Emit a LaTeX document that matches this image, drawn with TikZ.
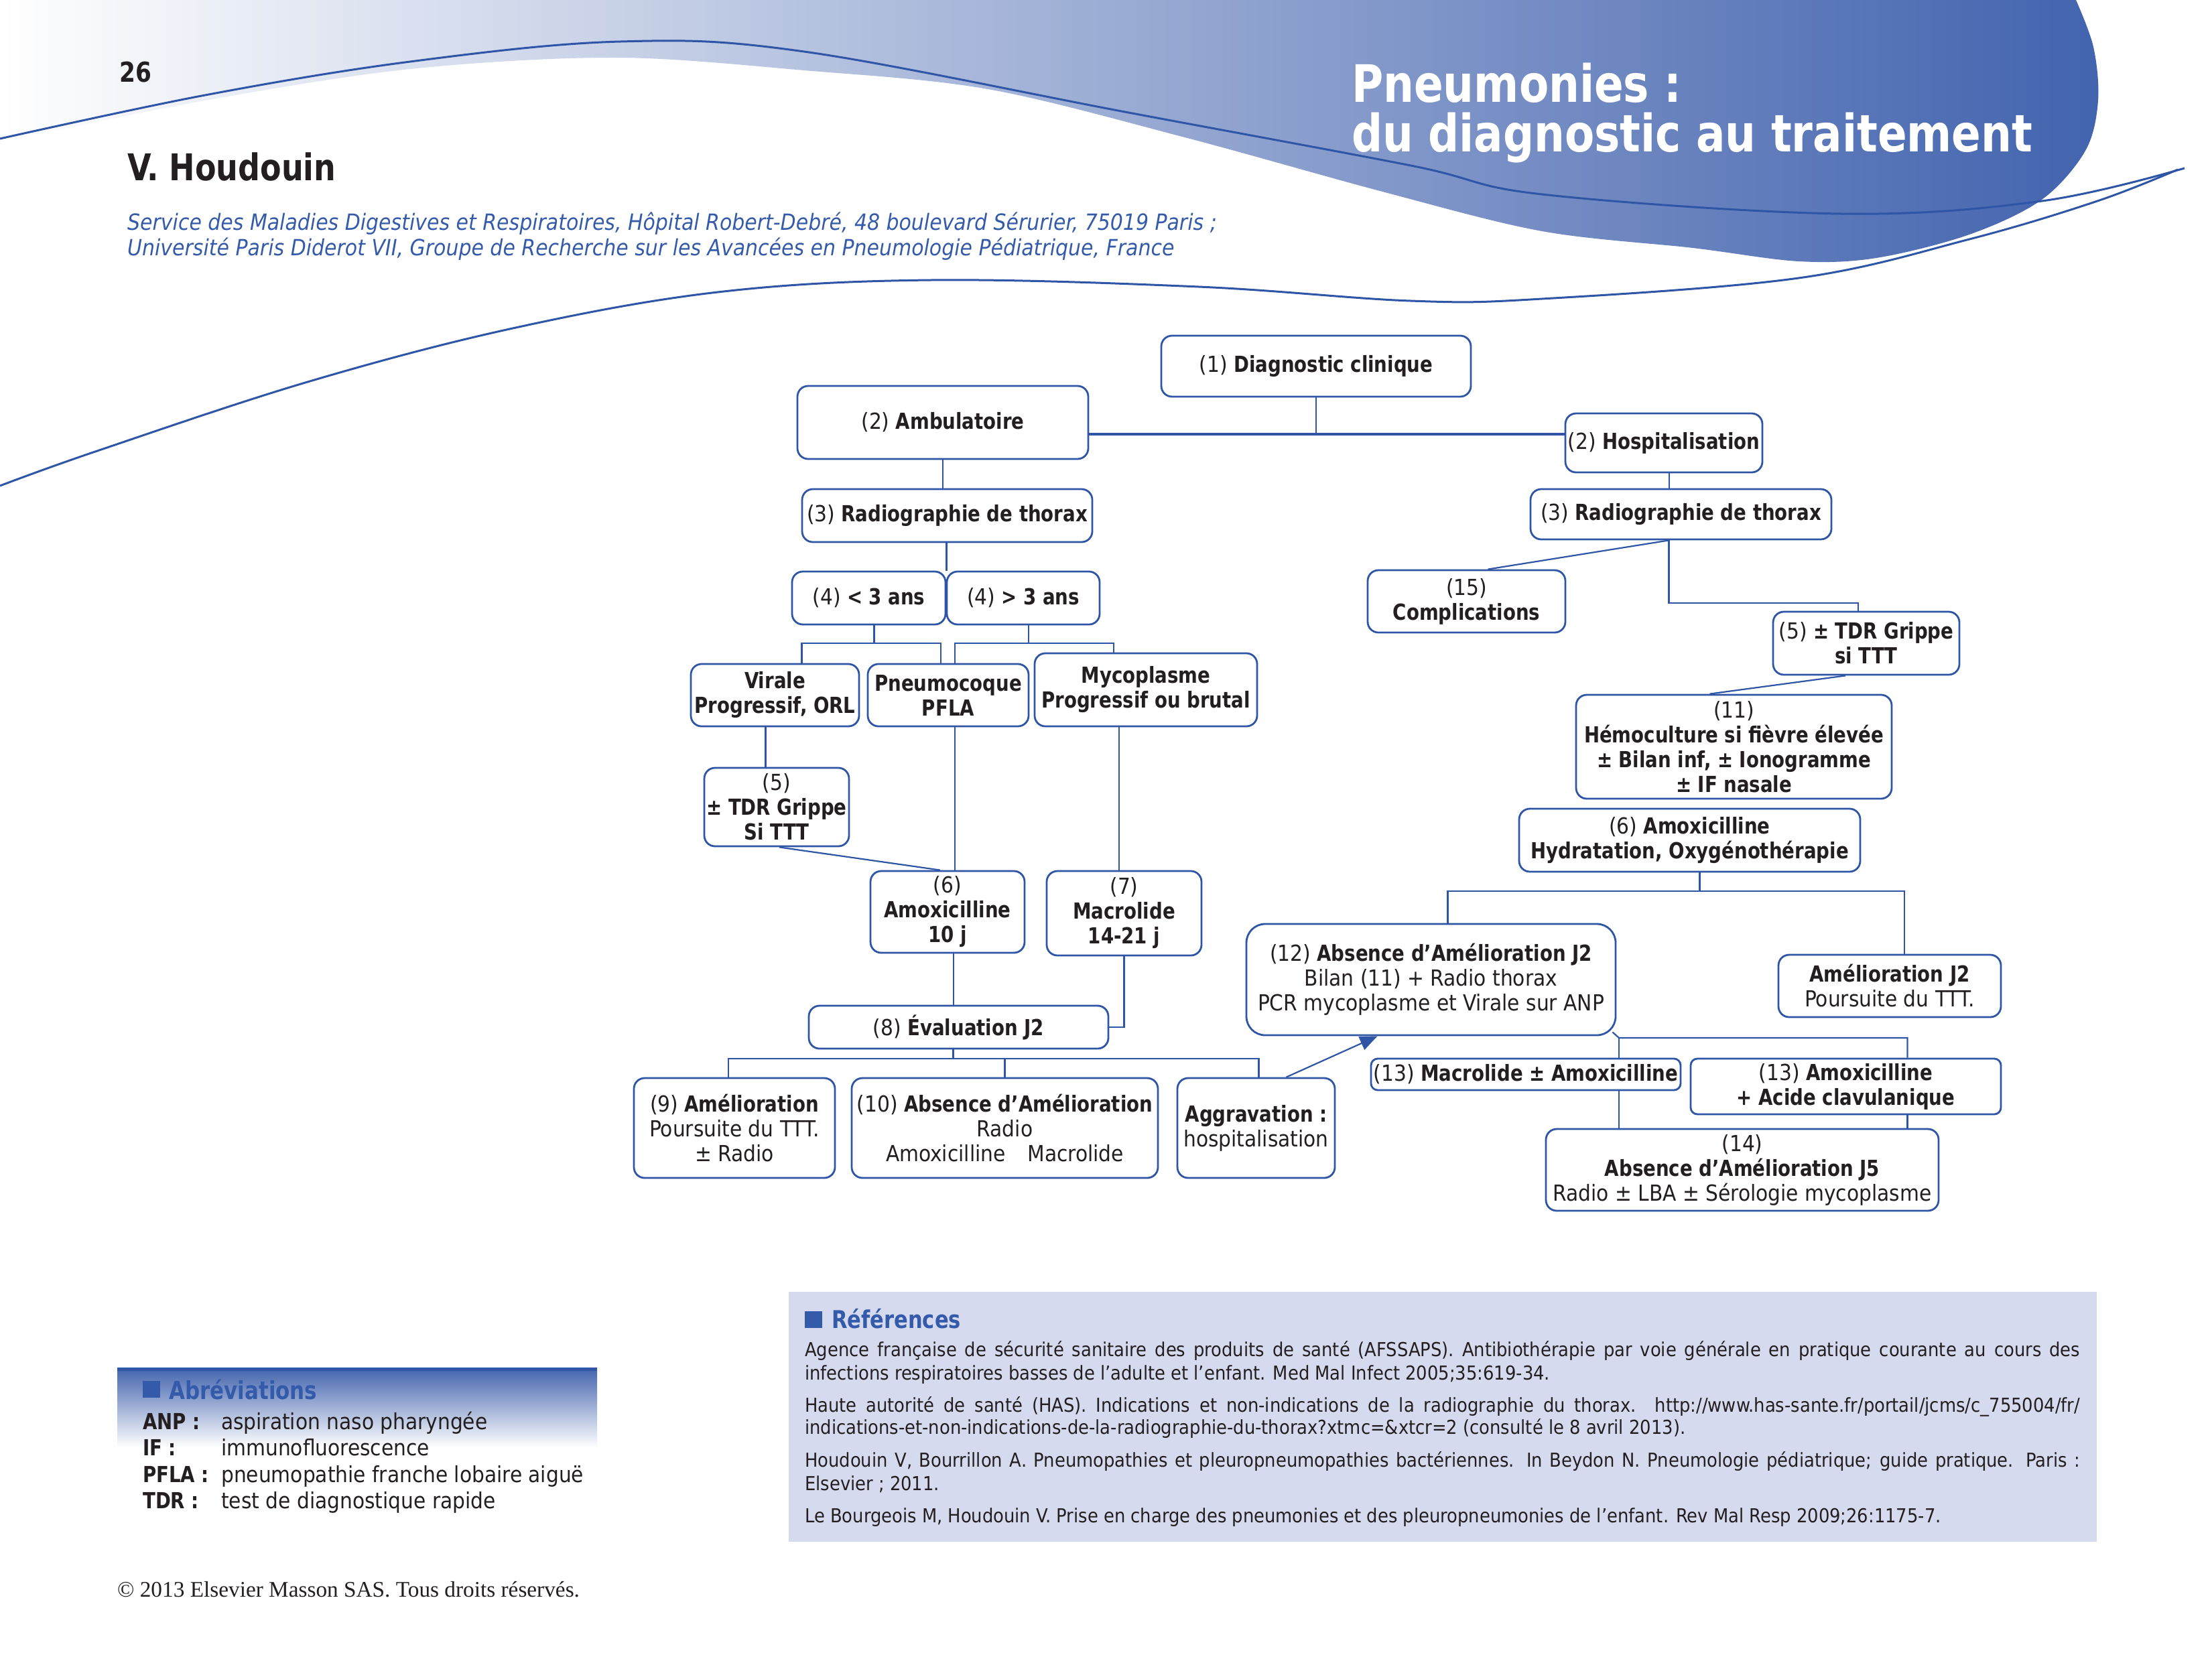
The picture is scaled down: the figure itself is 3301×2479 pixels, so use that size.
\documentclass[tikz,border=0pt]{standalone}
\usepackage{fontspec}
\usetikzlibrary{arrows.meta}
\setmainfont{DejaVuSansCondensed}[Extension=.ttf, UprightFont=*, BoldFont=*-Bold, BoldFeatures={FakeStretch=0.93}, ItalicFont=*-Oblique, BoldItalicFont=*-BoldOblique]
\newfontfamily\copyfont{Liberation Serif}
\definecolor{lblue}{RGB}{47,86,166}
\definecolor{hblue}{RGB}{66,99,174}
\definecolor{hmid}{RGB}{168,176,217}
\definecolor{refbg}{RGB}{213,218,238}
\definecolor{txtc}{RGB}{35,31,32}
\definecolor{ttlblue}{RGB}{52,90,170}
\newcommand\mybf[1]{{\bfseries #1}}
\newcommand\fsz[2]{\fontsize{#1}{#2}\selectfont}
\begin{document}
\begin{tikzpicture}[x=1pt,y=-1pt,
  bx/.style={draw=lblue, line width=2.8pt, rounded corners=16pt, fill=white, align=center, inner sep=0pt, text=txtc, font=\fsz{33}{37}},
  ln/.style={draw=lblue, line width=2.2pt},
  lnthick/.style={draw=lblue, line width=3.5pt},
  hline/.style={draw=lblue, line width=3pt},
  tx/.style={inner sep=0pt, anchor=base west, text=txtc}]
\useasboundingbox (0,0) rectangle (3301,2479);
% header
\shade[left color=white, middle color=hmid, right color=hblue]
  plot[smooth, tension=0.55] coordinates {(3098,0) (3124,70) (3131,150) (3112,225) (3047,298) (2939,350) (2800,385) (2684,390) (2526,370) (2301,345) (2063,286) (1768,205) (1474,133) (1200,105) (918,86) (612,103) (306,150) (0,212)} -- (0,0) -- cycle;
\draw[hline] plot[smooth, tension=0.6] coordinates {(0,207) (306,142) (612,92) (926,62) (1200,77) (1684,168) (2105,247) (2301,290) (2747,319) (3047,300) (3260,251)};
\draw[hline] plot[smooth, tension=0.6] coordinates {(0,725) (145,673) (459,570) (765,490) (1071,436) (1389,418) (1789,428) (2105,449) (2301,446) (2684,415) (2939,357) (3130,300) (3250,253)};
\node[tx, font=\fsz{41}{41}\bfseries] (page) at (178,122) {26};
\node[tx, text=white, font=\fsz{77}{77}\bfseries] (t1) at (2017,152) {Pneumonies :};
\node[tx, text=white, font=\fsz{77}{77}\bfseries] (t2) at (2017,226) {du diagnostic au traitement};
\node[tx, font=\fsz{55}{55}\bfseries] (auth) at (190,269) {V. Houdouin};
\node[tx, text=ttlblue, font=\fsz{33.3}{38}\itshape] (af1) at (190,343) {Service des Maladies Digestives et Respiratoires, Hôpital Robert-Debré, 48 boulevard Sérurier, 75019 Paris ;};
\node[tx, text=ttlblue, font=\fsz{33.3}{38}\itshape] (af2) at (190,381) {Université Paris Diderot VII, Groupe de Recherche sur les Avancées en Pneumologie Pédiatrique, France};
% boxes
\node[bx, minimum width=462pt, minimum height=91pt] (d1) at (1964,546.5) {(1) \mybf{Diagnostic clinique}};
\node[bx, minimum width=434pt, minimum height=109pt] (amb) at (1407,630.5) {(2) \mybf{Ambulatoire}};
\node[bx, minimum width=294pt, minimum height=88pt] (hosp) at (2483,661) {(2) \mybf{Hospitalisation}};
\node[bx, minimum width=433pt, minimum height=79pt] (radL) at (1413.5,769.5) {(3) \mybf{Radiographie de thorax}};
\node[bx, minimum width=449pt, minimum height=75pt] (radR) at (2508.5,767.5) {(3) \mybf{Radiographie de thorax}};
\node[bx, minimum width=229pt, minimum height=79pt] (lt3) at (1296.5,892.5) {(4) \mybf{< 3 ans}};
\node[bx, minimum width=228pt, minimum height=79pt] (gt3) at (1527,892.5) {(4) \mybf{> 3 ans}};
\node[bx, minimum width=251pt, minimum height=93pt] (vir) at (1156.5,1037.5) {\mybf{Virale}\\\mybf{Progressif, ORL}};
\node[bx, minimum width=240pt, minimum height=93pt] (pneu) at (1415,1037.5) {\mybf{Pneumocoque}\\\mybf{PFLA}};
\node[bx, minimum width=332pt, minimum height=109pt] (myco) at (1710,1029.5) {\mybf{Mycoplasme}\\\mybf{Progressif ou brutal}};
\node[bx, minimum width=216pt, minimum height=117pt] (tdrL) at (1159,1204.5) {(5)\\\mybf{± TDR Grippe}\\\mybf{Si TTT}};
\node[bx, minimum width=230pt, minimum height=122pt] (amoxL) at (1414,1361) {(6)\\\mybf{Amoxicilline}\\\mybf{10 j}};
\node[bx, minimum width=231pt, minimum height=126pt] (macro) at (1677.5,1363) {(7)\\\mybf{Macrolide}\\\mybf{14-21 j}};
\node[bx, minimum width=447pt, minimum height=64pt] (eval) at (1430.5,1533) {(8) \mybf{Évaluation J2}};
\node[bx, minimum width=300pt, minimum height=149pt] (ame9) at (1096,1683.5) {(9) \mybf{Amélioration}\\Poursuite du TTT.\\± Radio};
\node[bx, minimum width=457pt, minimum height=149pt] (abs10) at (1499.5,1683.5) {(10) \mybf{Absence d’Amélioration}\\Radio\\Amoxicilline\quad Macrolide};
\node[bx, minimum width=235pt, minimum height=149pt] (aggr) at (1874.5,1683.5) {\mybf{Aggravation :}\\hospitalisation};
\node[bx, minimum width=295pt, minimum height=93pt] (comp) at (2188.5,897.5) {(15)\\\mybf{Complications}};
\node[bx, minimum width=278pt, minimum height=94pt] (tdrR) at (2785,960) {(5) \mybf{± TDR Grippe}\\\mybf{si TTT}};
\node[bx, minimum width=471pt, minimum height=155pt] (hemo) at (2587.5,1114.5) {(11)\\\mybf{Hémoculture si fièvre élevée}\\\mybf{± Bilan inf, ± Ionogramme}\\\mybf{± IF nasale}};
\node[bx, minimum width=509pt, minimum height=94pt] (amoxR) at (2521.5,1254) {(6) \mybf{Amoxicilline}\\\mybf{Hydratation, Oxygénothérapie}};
\node[bx, rounded corners=28pt, minimum width=551pt, minimum height=166pt] (abs12) at (2135.5,1462) {(12) \mybf{Absence d’Amélioration J2}\\Bilan (11) + Radio thorax\\PCR mycoplasme et Virale sur ANP};
\node[bx, minimum width=332pt, minimum height=93pt] (ameJ2) at (2820,1471.5) {\mybf{Amélioration J2}\\Poursuite du TTT.};
\node[bx, rounded corners=10pt, minimum width=462pt, minimum height=47pt] (mac13) at (2277,1603.5) {(13) \mybf{Macrolide ± Amoxicilline}};
\node[bx, rounded corners=10pt, minimum width=463pt, minimum height=83pt] (amo13) at (2754.5,1621.5) {(13) \mybf{Amoxicilline}\\\mybf{+ Acide clavulanique}};
\node[bx, minimum width=586pt, minimum height=122pt] (abs14) at (2600,1746) {(14)\\\mybf{Absence d’Amélioration J5}\\Radio ± LBA ± Sérologie mycoplasme};
% junction levels
\coordinate (j1) at (1966,648);
\coordinate (h1) at (0,960);
\coordinate (h2) at (0,1580);
\coordinate (h3) at (0,900);
\coordinate (h4) at (0,1330);
\coordinate (h5) at (0,1549);
% connectors
\draw[ln] (d1.south) -- (d1.south |- j1);
\draw[lnthick] (amb.east |- j1) -- (hosp.west |- j1);
\draw[ln] (amb.south) -- (amb.south |- radL.north);
\draw[ln] ([xshift=8pt]hosp.south) -- ([xshift=8pt]hosp.south |- radR.north);
\draw[ln] (radL.south -| lt3.north east) -- (lt3.north east);
\draw[ln] ([xshift=8pt]lt3.south) -- ([xshift=8pt]lt3.south |- h1);
\draw[ln] ([xshift=40pt]vir.north) |- ([xshift=-11pt]pneu.north |- h1) -- ([xshift=-11pt]pneu.north);
\draw[ln] ([xshift=8pt]gt3.south) -- ([xshift=8pt]gt3.south |- h1);
\draw[ln] ([xshift=10pt]pneu.north) |- ([xshift=-48pt]myco.north |- h1) -- ([xshift=-48pt]myco.north);
\draw[ln] ([xshift=-14pt]vir.south) -- ([xshift=-14pt]vir.south |- tdrL.north);
\draw[ln] ([xshift=4pt]tdrL.south) -- ([xshift=-11pt]amoxL.north);
\draw[ln] ([xshift=10pt]pneu.south) -- ([xshift=10pt]pneu.south |- amoxL.north);
\draw[ln] ([xshift=-40pt]myco.south) -- ([xshift=-40pt]myco.south |- macro.north);
\draw[ln] ([xshift=9pt]amoxL.south) -- ([xshift=9pt]amoxL.south |- eval.north);
\draw[ln] (macro.south) |- (eval.east);
\draw[ln] ([xshift=-8pt]eval.south) -- ([xshift=-8pt]eval.south |- h2);
\draw[ln] ([xshift=-9pt]ame9.north) |- ([xshift=4pt]aggr.north |- h2) -- ([xshift=4pt]aggr.north);
\draw[ln] (abs10.north) -- (abs10.north |- h2);
\draw[ln, -{Triangle[length=26pt,width=21pt]}] ([xshift=45pt]aggr.north) -- ([xshift=-80pt]abs12.south);
\draw[ln] ([xshift=-18pt]radR.south) -- ([xshift=32pt]comp.north);
\draw[ln] ([xshift=-18pt]radR.south) |- ([xshift=-12pt]tdrR.north |- h3) -- ([xshift=-12pt]tdrR.north);
\draw[ln] ([xshift=-31pt]tdrR.south) -- ([xshift=-36pt]hemo.north);
\draw[ln] ([xshift=15pt]amoxR.south) -- ([xshift=15pt]amoxR.south |- h4);
\draw[ln] ([xshift=25pt]abs12.north) |- ([xshift=22pt]ameJ2.north |- h4) -- ([xshift=22pt]ameJ2.north);
\draw[ln] ([xshift=-6pt,yshift=6pt]abs12.south east) -- ([xshift=139pt]mac13.north |- h5) -- ([xshift=92pt]amo13.north |- h5) -- ([xshift=92pt]amo13.north);
\draw[ln] ([xshift=139pt]mac13.north |- h5) -- ([xshift=139pt]mac13.north);
\draw[ln] ([xshift=139pt]mac13.south) -- ([xshift=139pt]mac13.south |- abs14.north);
\draw[ln] ([xshift=92pt]amo13.south) -- ([xshift=92pt]amo13.south |- abs14.north);
% abbreviations
\shade[top color=hblue, bottom color=white] (175,2041) rectangle (891,2160);
\fill[lblue] (175,2041) rectangle (891,2046);
\fill[ttlblue] (213,2061) rectangle (239,2086);
\node[tx, text=ttlblue, font=\fsz{37}{37}\bfseries] (abt) at (252,2088) {Abréviations};
\node[tx, font=\fsz{33}{39}\bfseries] (a1) at (213,2133) {ANP :};
\node[tx, font=\fsz{33}{39}\bfseries] (a2) at (213,2172) {IF :};
\node[tx, font=\fsz{33}{39}\bfseries] (a3) at (213,2212) {PFLA :};
\node[tx, font=\fsz{33}{39}\bfseries] (a4) at (213,2251) {TDR :};
\node[tx, font=\fsz{33}{39}] (b1) at (330,2133) {aspiration naso pharyngée};
\node[tx, font=\fsz{33}{39}] (b2) at (330,2172) {immunofluorescence};
\node[tx, font=\fsz{33}{39}] (b3) at (330,2212) {pneumopathie franche lobaire aiguë};
\node[tx, font=\fsz{33}{39}] (b4) at (330,2251) {test de diagnostique rapide};
\node[tx, font=\fsz{33.3}{36}\copyfont] (copy) at (175,2383) {© 2013 Elsevier Masson SAS. Tous droits réservés.};
% references
\fill[refbg] (1177,1928) rectangle (3129,2301);
\fill[ttlblue] (1201,1957) rectangle (1227,1982);
\node[tx, text=ttlblue, font=\fsz{36.5}{37}\bfseries] (rft) at (1241,1982) {Références};
\node[tx, font=\fsz{28.7}{35}] (r1) at (1201,2024) {\makebox[1903pt][s]{Agence française de sécurité sanitaire des produits de santé (AFSSAPS). Antibiothérapie par voie générale en pratique courante au cours des}};
\node[tx, font=\fsz{28.7}{35}] (r2) at (1201,2059) {infections respiratoires basses de l’adulte et l’enfant. Med Mal Infect 2005;35:619-34.};
\node[tx, font=\fsz{28.7}{35}] (r3) at (1201,2107) {\makebox[1903pt][s]{Haute autorité de santé (HAS). Indications et non-indications de la radiographie du thorax. http://www.has-sante.fr/portail/jcms/c\_755004/fr/}};
\node[tx, font=\fsz{28.7}{35}] (r4) at (1201,2140) {indications-et-non-indications-de-la-radiographie-du-thorax?xtmc=\&xtcr=2 (consulté le 8 avril 2013).};
\node[tx, font=\fsz{28.7}{35}] (r5) at (1201,2189) {\makebox[1903pt][s]{Houdouin V, Bourrillon A. Pneumopathies et pleuropneumopathies bactériennes. In Beydon N. Pneumologie pédiatrique; guide pratique. Paris :}};
\node[tx, font=\fsz{28.7}{35}] (r6) at (1201,2224) {Elsevier ; 2011.};
\node[tx, font=\fsz{28.7}{35}] (r7) at (1201,2272) {Le Bourgeois M, Houdouin V. Prise en charge des pneumonies et des pleuropneumonies de l’enfant. Rev Mal Resp 2009;26:1175-7.};
\end{tikzpicture}
\end{document}
